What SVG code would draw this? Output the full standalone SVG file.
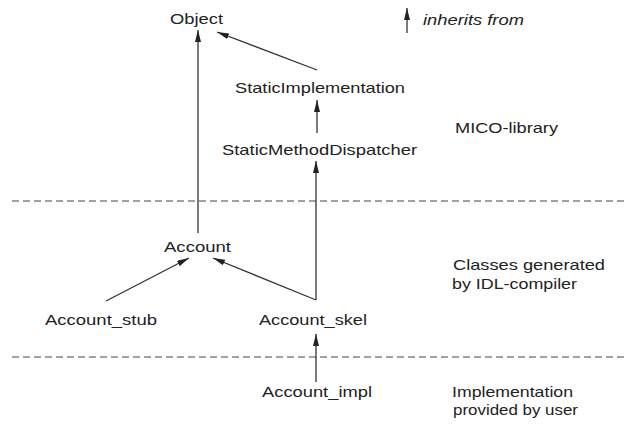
<svg xmlns="http://www.w3.org/2000/svg" width="626" height="427" viewBox="0 0 626 427">
<style>
text{font-family:"Liberation Sans",Arial,sans-serif;font-size:14.5px;fill:#222}
.it{font-style:italic}
.ln{stroke:#333;stroke-width:1.3;fill:none}
.dash{stroke:#444;stroke-width:1.2;stroke-dasharray:7 4;fill:none}
</style>
<defs>
<marker id="ah" viewBox="0 0 12 6" refX="12" refY="3" markerWidth="12" markerHeight="6" markerUnits="userSpaceOnUse" orient="auto">
<path d="M0,0 L12,3 L0,6 Z" fill="#222"/>
</marker>
</defs>
<rect width="626" height="427" fill="#fff"/>
<g id="separators">
<line class="dash" x1="12" y1="201" x2="624" y2="201"/>
<line class="dash" x1="12" y1="357" x2="624" y2="357"/>
</g>
<g id="connectors">
<line class="ln" x1="198" y1="233" x2="198" y2="30" marker-end="url(#ah)"/>
<line class="ln" x1="317" y1="70" x2="217" y2="32" marker-end="url(#ah)"/>
<line class="ln" x1="317" y1="133" x2="317" y2="100" marker-end="url(#ah)"/>
<line class="ln" x1="316" y1="300" x2="316" y2="161" marker-end="url(#ah)"/>
<line class="ln" x1="316" y1="300" x2="213" y2="258" marker-end="url(#ah)"/>
<line class="ln" x1="106" y1="301" x2="189" y2="258" marker-end="url(#ah)"/>
<line class="ln" x1="316" y1="382" x2="316" y2="334" marker-end="url(#ah)"/>
<line class="ln" x1="407" y1="33" x2="407" y2="8" marker-end="url(#ah)"/>
</g>
<g id="legend"><text class="it" x="423" y="25" textLength="101" lengthAdjust="spacingAndGlyphs">inherits from</text></g>
<g id="n-object"><text x="170" y="24" textLength="53" lengthAdjust="spacingAndGlyphs">Object</text></g>
<g id="n-staticimpl"><text x="235" y="93" textLength="170" lengthAdjust="spacingAndGlyphs">StaticImplementation</text></g>
<g id="n-smd"><text x="222" y="155" textLength="195" lengthAdjust="spacingAndGlyphs">StaticMethodDispatcher</text></g>
<g id="n-account"><text x="164" y="252" textLength="67" lengthAdjust="spacingAndGlyphs">Account</text></g>
<g id="n-stub"><text x="45" y="325" textLength="112" lengthAdjust="spacingAndGlyphs">Account_stub</text></g>
<g id="n-skel"><text x="259" y="325" textLength="108" lengthAdjust="spacingAndGlyphs">Account_skel</text></g>
<g id="n-impl"><text x="262" y="397" textLength="110" lengthAdjust="spacingAndGlyphs">Account_impl</text></g>
<g id="labels">
<text x="455" y="133" textLength="103" lengthAdjust="spacingAndGlyphs">MICO-library</text>
<text x="453" y="270" textLength="152" lengthAdjust="spacingAndGlyphs">Classes generated</text>
<text x="452" y="289" textLength="125" lengthAdjust="spacingAndGlyphs">by IDL-compiler</text>
<text x="452" y="397" textLength="121" lengthAdjust="spacingAndGlyphs">Implementation</text>
<text x="453" y="415" textLength="125" lengthAdjust="spacingAndGlyphs">provided by user</text>
</g>
</svg>
